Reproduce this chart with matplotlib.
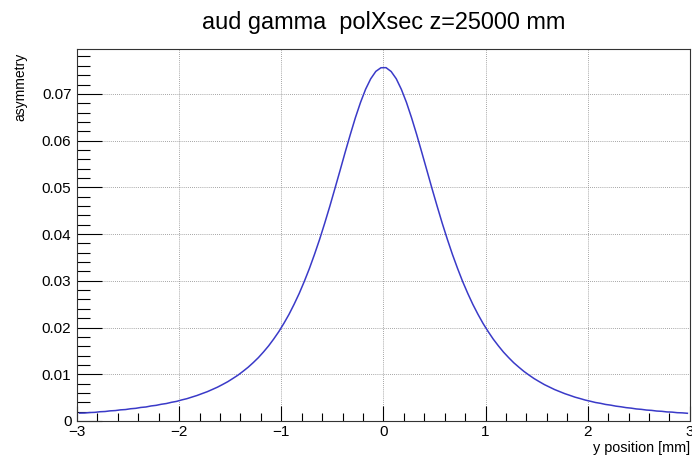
import numpy as np
import matplotlib
matplotlib.use('Agg')
import matplotlib.pyplot as plt
from matplotlib.ticker import MultipleLocator

# histogram range and binning (0.05 mm bins)
y_min = -3.0
y_max = 3.0
n_bins = 120

# bin contents for y < 0, left to right
asym_neg = [0.00169, 0.00171, 0.00181, 0.00185, 0.00198, 0.00203, 0.00217, 0.00223, 0.00238, 0.00245,
            0.00262, 0.00271, 0.00290, 0.00300, 0.00322, 0.00335, 0.00358, 0.00374, 0.00400, 0.00420,
            0.00451, 0.00477, 0.00512, 0.00546, 0.00587, 0.00627, 0.00675, 0.00724, 0.00781, 0.00840,
            0.00909, 0.00980, 0.01063, 0.01150, 0.01249, 0.01355, 0.01476, 0.01606, 0.01753, 0.01911,
            0.02089, 0.02281, 0.02497, 0.02729, 0.02987, 0.03264, 0.03567, 0.03888, 0.04235, 0.04597,
            0.04977, 0.05361, 0.05751, 0.06128, 0.06490, 0.06815, 0.07099, 0.07322, 0.07481, 0.07559]

# bin contents for y > 0, left to right
asym_pos = [0.07561, 0.07479, 0.07324, 0.07097, 0.06817, 0.06488, 0.06130, 0.05749, 0.05363, 0.04975,
            0.04599, 0.04233, 0.03890, 0.03565, 0.03266, 0.02985, 0.02731, 0.02495, 0.02283, 0.02087,
            0.01913, 0.01751, 0.01608, 0.01474, 0.01357, 0.01247, 0.01152, 0.01061, 0.00982, 0.00907,
            0.00842, 0.00779, 0.00726, 0.00673, 0.00629, 0.00585, 0.00548, 0.00510, 0.00480, 0.00448,
            0.00423, 0.00396, 0.00378, 0.00354, 0.00339, 0.00318, 0.00304, 0.00286, 0.00275, 0.00258,
            0.00249, 0.00234, 0.00227, 0.00213, 0.00207, 0.00194, 0.00190, 0.00178, 0.00174, 0.00165]

asymmetry = np.array(asym_neg + asym_pos)
edges = np.linspace(y_min, y_max, n_bins + 1)
centers = 0.5 * (edges[:-1] + edges[1:])

plt.rcParams['font.family'] = ['Liberation Sans', 'DejaVu Sans']

fig = plt.figure(figsize=(6.92, 4.58), dpi=100)
ax = fig.add_axes([0.1113, 0.0808, 0.8857, 0.8122])

# fine binning -> draw through the bin centres
ax.plot(centers, asymmetry, color='#3a3ac8', lw=1.1)

ax.set_xlim(y_min, y_max)
ax.set_ylim(0, 0.0796)

ax.xaxis.set_major_locator(MultipleLocator(1))
ax.xaxis.set_minor_locator(MultipleLocator(0.2))
ax.yaxis.set_major_locator(MultipleLocator(0.01))
ax.yaxis.set_minor_locator(MultipleLocator(0.002))
ax.yaxis.set_major_formatter(plt.FuncFormatter(lambda v, p: '0' if abs(v) < 1e-9 else '%.2f' % v))

ax.tick_params(axis='x', which='major', direction='in', length=11, width=0.8, labelsize=11, pad=3)
ax.tick_params(axis='x', which='minor', direction='in', length=5.5, width=0.8)
ax.tick_params(axis='y', which='major', direction='in', length=18, width=0.8, labelsize=11, pad=4)
ax.tick_params(axis='y', which='minor', direction='in', length=9, width=0.8)
ax.tick_params(top=False, right=False, which='both')

ax.grid(True, which='major', color='#888888', linestyle=(0, (1, 1.5)), lw=0.6)

for s in ax.spines.values():
    s.set_linewidth(0.8)
    s.set_color('#333333')

fig.text(0.554, 0.951, 'aud gamma  polXsec z=25000 mm', ha='center', va='center', fontsize=16.9)
fig.text(0.029, 0.885, 'asymmetry', rotation=90, ha='center', va='top', fontsize=10)
fig.text(0.997, 0.022, 'y position [mm]', ha='right', va='center', fontsize=10.4)

fig.savefig('out.png', dpi=100)
